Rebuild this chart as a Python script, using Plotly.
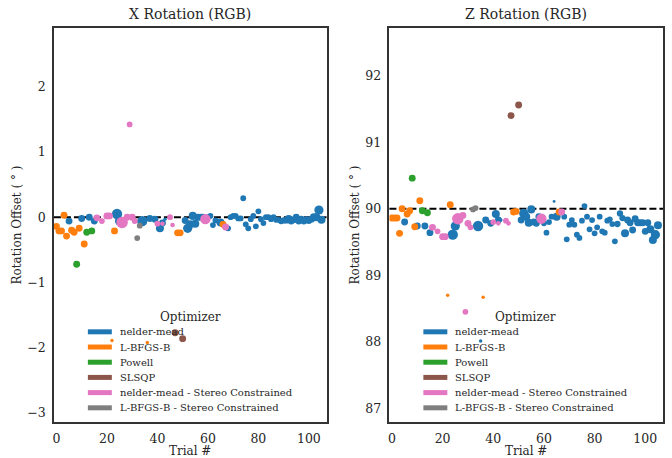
import plotly.graph_objects as go

# Optimizer names and their colours
optimizers = ["nelder-mead", "L-BFGS-B", "Powell", "SLSQP",
              "nelder-mead - Stereo Constrained", "L-BFGS-B - Stereo Constrained"]
colors = ["#1f77b4", "#ff7f0e", "#2ca02c", "#8c564b", "#e377c2", "#7f7f7f"]

# nelder-mead: trial, X offset (deg), Z rotation (deg), marker size
nm_trial = [5, 10, 13, 15, 24, 25, 34, 35, 37, 39, 41, 42, 43, 51, 52, 53, 54, 55, 56, 57,
            58, 60, 61, 62, 63, 64, 65, 68, 69, 70, 71, 72, 73, 74, 75, 76, 77, 78, 79, 80,
            81, 82, 83, 84, 85, 86, 87, 88, 89, 90, 91, 92, 93, 94, 95, 96, 97, 98, 99, 100,
            101, 102, 103, 104, 105]
nm_x = [-0.06, -0.02, 0.0, -0.06, 0.05, -0.06, -0.06, -0.02, -0.02, -0.03, -0.17, -0.09, -0.03,
        -0.05, -0.17, -0.11, 0.02, -0.10, 0.0, 0.0, 0.0, 0.0, 0.02, -0.12, -0.05, -0.08, -0.08,
        -0.17, 0.0, 0.02, 0.02, -0.02, -0.02, 0.29, -0.11, -0.17, -0.03, 0.02, -0.14, 0.09,
        -0.03, -0.09, 0.0, 0.0, -0.03, 0.0, -0.04, -0.04, -0.06, -0.05, -0.05, -0.03, -0.06,
        -0.04, 0.0, -0.06, -0.03, -0.06, -0.04, -0.05, -0.03, 0.0, 0.0, 0.11, -0.04]
nm_z = [89.80, 89.74, 89.74, 89.64, 89.61, 89.74, 89.74, 88.01, 89.83, 89.78, 89.92, 89.83,
        89.83, 89.83, 89.93, 89.88, 89.79, 89.99, 89.80, 89.78, 89.88, 89.78, 89.64, 89.80,
        89.88, 90.11, 89.88, 89.88, 89.54, 89.76, 89.83, 89.76, 89.61, 89.56, 89.82, 90.04,
        89.88, 89.69, 89.83, 89.63, 89.72, 89.88, 89.66, 89.64, 89.82, 89.84, 89.77, 89.51,
        89.77, 89.93, 89.86, 89.63, 89.83, 89.79, 89.68, 89.85, 89.79, 89.79, 89.79, 89.66,
        89.79, 89.69, 89.53, 89.61, 89.75]
nm_size = [6, 6, 6, 6, 9, 8, 9, 3, 6, 6, 7, 6, 3, 6, 8, 7, 7, 7, 6, 6,
           6, 5, 5, 5, 5, 2.5, 7, 5, 5, 5, 5, 5, 5, 5, 5, 5, 5, 5, 5, 5,
           5, 5, 5, 5, 5, 5, 5, 5, 5.5, 5.5, 5.5, 7, 6, 6, 6, 6, 6, 6, 6, 6,
           6, 7, 7, 8, 7]

# L-BFGS-B
lb_trial = [0, 1, 2, 3, 4, 6, 7, 9, 11, 22, 23, 36, 48, 49, 66]
lb_x = [-0.14, -0.21, -0.21, 0.03, -0.29, -0.20, -0.23, -0.17, -0.41, -1.89, -0.21, -1.92,
        -0.24, -0.24, -0.11]
lb_z = [89.86, 89.86, 89.86, 89.63, 90.00, 89.92, 89.97, 89.73, 90.12, 88.70, 90.06, 88.67,
        89.95, 89.96, 89.95]
lb_size = [6, 6, 6, 6, 6, 6, 6, 6, 6, 3, 6, 3, 6, 6, 6]

# Powell
pw_trial = [8, 12, 14]
pw_x = [-0.72, -0.23, -0.21]
pw_z = [90.46, 89.97, 89.94]
pw_size = [6, 6, 6]

# SLSQP
sq_trial = [47, 50]
sq_x = [-1.77, -1.86]
sq_z = [91.40, 91.56]
sq_size = [6, 6]

# nelder-mead - Stereo Constrained
nms_trial = [16, 18, 20, 21, 26, 28, 29, 30, 31, 40, 42, 45, 46, 59, 67]
nms_x = [-0.01, -0.06, 0.02, 0.02, -0.08, 0.0, 1.42, 0.0, -0.06, -0.10, -0.10, 0.0, -0.12,
         -0.03, -0.15]
nms_z = [89.72, 89.66, 89.58, 89.58, 89.85, 89.90, 88.45, 89.78, 89.72, 89.80, 89.78, 89.82,
         89.78, 89.85, 89.95]
nms_size = [6, 5, 6, 6, 10, 6, 5, 6, 5, 5, 4, 5, 4, 9, 6]

# L-BFGS-B - Stereo Constrained
lbs_trial = [32, 33]
lbs_x = [-0.32, -0.13]
lbs_z = [89.99, 90.01]
lbs_size = [5, 5]

series = [
    (nm_trial, nm_x, nm_z, nm_size),
    (lb_trial, lb_x, lb_z, lb_size),
    (pw_trial, pw_x, pw_z, pw_size),
    (sq_trial, sq_x, sq_z, sq_size),
    (nms_trial, nms_x, nms_z, nms_size),
    (lbs_trial, lbs_x, lbs_z, lbs_size),
]

x_range = [-1, 107]
x_ticks = [0, 20, 40, 60, 80, 100]
left_y_range = [-3.14, 2.9]
left_y_ticks = [-3, -2, -1, 0, 1, 2]
right_y_range = [86.79, 92.72]
right_y_ticks = [87, 88, 89, 90, 91, 92]

FONT = "DejaVu Serif"
INK = "#262626"
W, H = 672, 458
SIZE_SCALE = 1.15

fig = go.Figure()

for (trial, xo, zo, size), color in zip(series, colors):
    msize = [s * SIZE_SCALE for s in size]
    for yvals, xa, ya in ((xo, "x", "y"), (zo, "x2", "y2")):
        fig.add_trace(go.Scatter(x=trial, y=yvals, mode="markers", xaxis=xa, yaxis=ya,
                                 marker=dict(color=color, size=msize, opacity=1,
                                             line=dict(width=0)),
                                 showlegend=False, hoverinfo="x+y"))

# Reference lines at zero offset / 90 degrees
fig.add_shape(type="line", xref="x domain", yref="y", x0=0, x1=1, y0=0, y1=0,
              line=dict(color="black", width=2, dash="7px,3px"), layer="below")
fig.add_shape(type="line", xref="x2 domain", yref="y2", x0=0, x1=1, y0=90, y1=90,
              line=dict(color="black", width=2, dash="7px,3px"), layer="below")

# Compact legend ("Optimizer") drawn in each panel
annotations = []
legend_left_px = [87, 423]   # swatch start per panel
legend_title_cx = [189.5, 525.5]
title_y_px = 319
first_row_px = 334
row_step_px = 15.3
for lx, tcx in zip(legend_left_px, legend_title_cx):
    annotations.append(dict(text="Optimizer", x=tcx / W, y=1 - title_y_px / H,
                            xref="paper", yref="paper", showarrow=False,
                            xanchor="center", yanchor="middle",
                            font=dict(family=FONT, size=12, color=INK)))
    for i, (name, color) in enumerate(zip(optimizers, colors)):
        ry = 1 - (first_row_px + i * row_step_px) / H
        fig.add_shape(type="line", xref="paper", yref="paper",
                      x0=lx / W, x1=(lx + 24) / W, y0=ry, y1=ry,
                      line=dict(color=color, width=5))
        annotations.append(dict(text=name, x=(lx + 30) / W, y=ry, xref="paper", yref="paper",
                                showarrow=False, xanchor="left", yanchor="middle",
                                font=dict(family=FONT, size=10, color=INK)))

axis_common = dict(showgrid=False, zeroline=False, showline=True, mirror=True,
                   linecolor="#333333", linewidth=1.5, ticks="outside", ticklen=4,
                   tickcolor="rgba(0,0,0,0)",
                   tickfont=dict(family=FONT, size=12.5, color=INK))

left_dom = [53 / W, 326 / W]
right_dom = [389 / W, 663 / W]
y_dom = [1 - 425 / H, 1 - 28 / H]

title_font = dict(family=FONT, size=12, color=INK)

annotations += [
    dict(text="X Rotation (RGB)", x=sum(left_dom) / 2, y=1 - 14 / H, xref="paper",
         yref="paper", showarrow=False, xanchor="center", yanchor="middle",
         font=dict(family=FONT, size=14, color=INK)),
    dict(text="Z Rotation (RGB)", x=sum(right_dom) / 2, y=1 - 14 / H, xref="paper",
         yref="paper", showarrow=False, xanchor="center", yanchor="middle",
         font=dict(family=FONT, size=14, color=INK)),
]

fig.update_layout(
    width=W, height=H,
    margin=dict(l=0, r=0, t=0, b=0),
    paper_bgcolor="white", plot_bgcolor="white",
    font=dict(family=FONT, color=INK),
    showlegend=False,
    xaxis=dict(domain=left_dom, range=x_range, tickvals=x_ticks, anchor="y",
               title=dict(text="Trial #", font=title_font, standoff=4), **axis_common),
    yaxis=dict(domain=y_dom, range=left_y_range, tickvals=left_y_ticks, anchor="x",
               title=dict(text="Rotation Offset ( ° )", font=title_font, standoff=3),
               **axis_common),
    xaxis2=dict(domain=right_dom, range=x_range, tickvals=x_ticks, anchor="y2",
                title=dict(text="Trial #", font=title_font, standoff=4), **axis_common),
    yaxis2=dict(domain=y_dom, range=right_y_range, tickvals=right_y_ticks, anchor="x2",
                title=dict(text="Rotation Offset ( ° )", font=title_font, standoff=3),
                **axis_common),
    annotations=annotations,
)

fig.write_html("out.html")
